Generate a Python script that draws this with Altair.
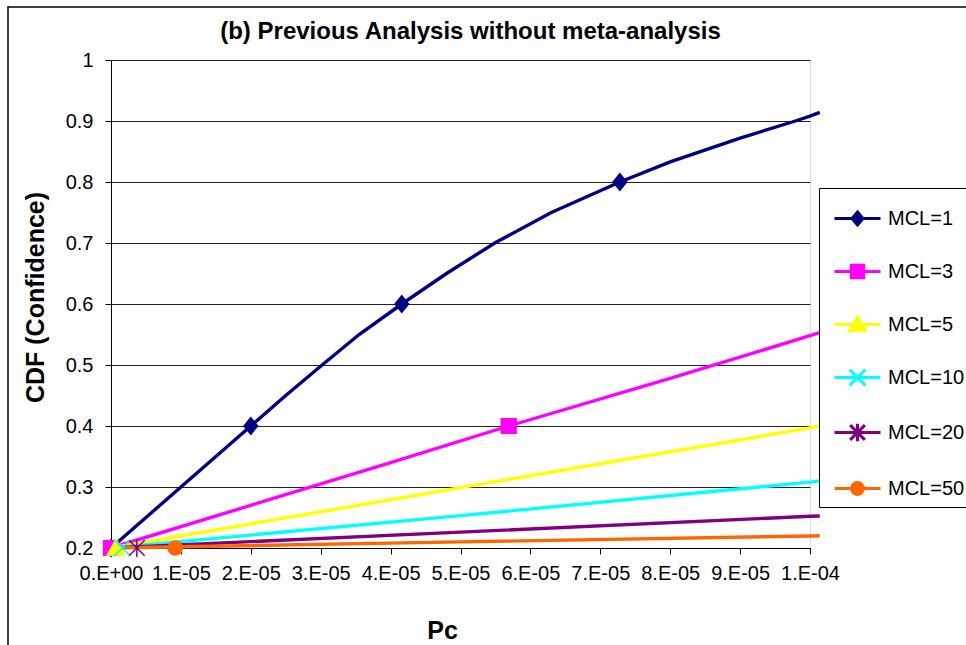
import json
import altair as alt
import pandas as pd

# ---------------- data ----------------
SERIES = ["MCL=1", "MCL=3", "MCL=5", "MCL=10", "MCL=20", "MCL=50"]
COLORS = ["#000080", "#FF00FF", "#FFFF00", "#00FFFF", "#800080", "#FF6600"]

MCL1_X = [0, 1.0e-5, 2.0e-5, 2.5e-5, 3.02e-5, 3.55e-5, 4.16e-5, 4.8e-5, 5.49e-5,
          6.3e-5, 7.28e-5, 8.0e-5, 9.0e-5, 9.79e-5, 1.0e-4, 1.014e-4]
MCL1_Y = [0.2, 0.3, 0.4, 0.45, 0.5, 0.55, 0.6, 0.65, 0.7,
          0.75, 0.8, 0.833, 0.872, 0.9, 0.908, 0.914]
MCL3_X = [0, 2.0e-5, 4.0e-5, 5.69e-5, 8.0e-5, 1.0e-4, 1.014e-4]
MCL3_Y = [0.2, 0.27, 0.34, 0.4, 0.478, 0.548, 0.553]
MCL5_X = [0, 5.0e-5, 1.0e-4, 1.014e-4]
MCL5_Y = [0.2, 0.299, 0.397, 0.4]
MCL10_X = [0, 5.0e-5, 1.0e-4, 1.014e-4]
MCL10_Y = [0.2, 0.253, 0.308, 0.31]
MCL20_X = [0, 5.0e-5, 1.0e-4, 1.014e-4]
MCL20_Y = [0.2, 0.226, 0.252, 0.2525]
MCL50_X = [0, 5.0e-5, 1.0e-4, 1.014e-4]
MCL50_Y = [0.2, 0.21, 0.2197, 0.22]

# marker positions
MK1_X = [0, 2.0e-5, 4.16e-5, 7.28e-5]
MK1_Y = [0.2, 0.4, 0.6, 0.8]
MK3_X = [0, 5.69e-5]
MK3_Y = [0.2, 0.4]
MK5_X = [0.07e-5]
MK5_Y = [0.2]
MK10_X = [0.16e-5]
MK10_Y = [0.2]
MK20_X = [0.37e-5]
MK20_Y = [0.2]
MK50_X = [0.92e-5]
MK50_Y = [0.2]

X_TICKS = [0.0, 1e-05, 2e-05, 3e-05, 4e-05, 5e-05, 6e-05, 7e-05, 8e-05, 9e-05, 1e-04]
X_TICK_LABELS = ["0.E+00", "1.E-05", "2.E-05", "3.E-05", "4.E-05", "5.E-05",
                 "6.E-05", "7.E-05", "8.E-05", "9.E-05", "1.E-04"]
Y_TICKS = [0.2, 0.3, 0.4, 0.5, 0.6, 0.7, 0.8, 0.9, 1.0]

TITLE = "(b) Previous Analysis without meta-analysis"
X_TITLE = "Pc"
Y_TITLE = "CDF (Confidence)"

# ---------------- tables ----------------
line_sets = [(MCL1_X, MCL1_Y), (MCL3_X, MCL3_Y), (MCL5_X, MCL5_Y),
             (MCL10_X, MCL10_Y), (MCL20_X, MCL20_Y), (MCL50_X, MCL50_Y)]
mark_sets = [(MK1_X, MK1_Y), (MK3_X, MK3_Y), (MK5_X, MK5_Y),
             (MK10_X, MK10_Y), (MK20_X, MK20_Y), (MK50_X, MK50_Y)]

lines_df = pd.DataFrame([
    {"series": s, "x": x, "y": y}
    for s, (xs, ys) in zip(SERIES, line_sets) for x, y in zip(xs, ys)
])

# marker glyphs (unit square paths)
PLOT_SHAPES = {
    "MCL=1": "M0,-0.95L0.78,0L0,0.95L-0.78,0Z",
    "MCL=3": "M-0.85,-0.85L0.85,-0.85L0.85,0.85L-0.85,0.85Z",
    "MCL=5": "M0,-0.95L1,0.8L-1,0.8Z",
    "MCL=10": "M-0.95,-0.95L0.95,0.95M-0.95,0.95L0.95,-0.95",
    "MCL=20": "M-0.9,-0.9L0.9,0.9M-0.9,0.9L0.9,-0.9M0,-1.05L0,1.05",
    "MCL=50": "M-0.82,0A0.82,0.82,0,1,1,0.82,0A0.82,0.82,0,1,1,-0.82,0Z",
}
LEGEND_SHAPES = [
    "M-1,0L1,0M0,-0.28L0.24,0L0,0.28L-0.24,0Z",
    "M-1,0L1,0M-0.27,-0.27L0.27,-0.27L0.27,0.27L-0.27,0.27Z",
    "M-1,0L1,0M0,-0.32L0.34,0.27L-0.34,0.27Z",
    "M-1,0L1,0M-0.34,-0.34L0.34,0.34M-0.34,0.34L0.34,-0.34",
    "M-1,0L1,0M-0.32,-0.32L0.32,0.32M-0.32,0.32L0.32,-0.32M0,-0.38L0,0.38",
    "M-1,0L1,0M-0.26,0A0.26,0.26,0,1,1,0.26,0A0.26,0.26,0,1,1,-0.26,0Z",
]

marks_df = pd.DataFrame([
    {"series": s, "x": x, "y": y, "marker": PLOT_SHAPES[s]}
    for s, (xs, ys) in zip(SERIES, mark_sets) for x, y in zip(xs, ys)
])

FONT = "Liberation Sans"

x_label_expr = f"{json.dumps(X_TICK_LABELS)}[indexof({json.dumps(X_TICKS)}, datum.value)]"

x_enc = alt.X(
    "x:Q",
    scale=alt.Scale(domain=[0, 1e-4], nice=False, zero=False),
    axis=alt.Axis(
        values=X_TICKS, labelExpr=x_label_expr, grid=False,
        domainColor="black", tickColor="black", tickSize=6,
        labelFont=FONT, labelFontSize=20, labelColor="black", labelPadding=9,
        labelFlush=False, labelOverlap=False,
        title=X_TITLE, titleFont=FONT, titleFontSize=25, titleFontWeight="bold",
        titleColor="black", titleX=331, titleY=90, titleAlign="center",
        titleBaseline="alphabetic",
    ),
)
y_enc = alt.Y(
    "y:Q",
    scale=alt.Scale(domain=[0.2, 1.0], nice=False, zero=False),
    axis=alt.Axis(
        values=Y_TICKS, format="~g", grid=True, gridColor="#222222", gridWidth=1,
        domainColor="black", tickColor="black", tickSize=6,
        labelFont=FONT, labelFontSize=20, labelColor="black", labelPadding=12,
        labelFlush=False, labelOverlap=False,
        title=Y_TITLE, titleFont=FONT, titleFontSize=25, titleFontWeight="bold",
        titleColor="black", titleX=-68, titleY=237, titleAngle=-90,
        titleAlign="center", titleBaseline="alphabetic",
    ),
)

stroke_scale = alt.Scale(domain=SERIES, range=COLORS)
fill_scale = alt.Scale(domain=SERIES, range=COLORS)

frame = alt.Chart(pd.DataFrame({"k": [0]})).mark_rect(
    fill="white", fillOpacity=0, stroke="black", strokeWidth=1.5, clip=False
).encode(
    x=alt.value(-103), x2=alt.value(1100), y=alt.value(-53), y2=alt.value(800)
)

lines = alt.Chart(lines_df).mark_line(strokeWidth=3.4, clip=False).encode(
    x=x_enc, y=y_enc,
    stroke=alt.Stroke("series:N", scale=stroke_scale, legend=None),
    order="x:Q",
)

points = alt.Chart(marks_df).mark_point(
    filled=True, size=300, strokeWidth=1.5, opacity=1, clip=False
).encode(
    x="x:Q", y="y:Q",
    fill=alt.Fill("series:N", scale=fill_scale, legend=None),
    stroke=alt.Stroke("series:N", scale=stroke_scale, legend=None),
    shape=alt.Shape("marker:N", scale=None, legend=None),
)

leg = alt.Legend(
    title=None, orient="none", legendX=708, legendY=128, padding=6,
    symbolOffset=8, symbolSize=2116, symbolStrokeWidth=3,
    labelFont=FONT, labelFontSize=20, labelColor="black", labelOffset=6,
    rowPadding=16, strokeColor="black", fillColor="white", zindex=1,
    labelLimit=300,
)

legend_layer = alt.Chart(marks_df).mark_point(
    filled=True, size=2116, strokeWidth=3, opacity=1
).encode(
    x="x:Q", y="y:Q",
    fill=alt.Fill("series:N", scale=fill_scale, legend=leg),
    stroke=alt.Stroke("series:N", scale=stroke_scale, legend=leg),
    shape=alt.Shape("series:N", scale=alt.Scale(domain=SERIES, range=LEGEND_SHAPES), legend=leg),
).transform_filter("false")

chart = alt.layer(frame, lines, points, legend_layer).resolve_legend(
    fill="independent", stroke="independent", shape="independent"
).properties(
    width=699, height=488,
    autosize=alt.AutoSizeParams(type="none"),
    padding={"left": 111, "top": 60, "right": 156, "bottom": 97},
    title=alt.Title(TITLE, font=FONT, fontSize=24, fontWeight="bold", color="black",
                    anchor="middle", frame="group", dx=10, offset=0, dy=56.5,
                    baseline="alphabetic"),
).configure_view(stroke="#808080", strokeWidth=1).configure(background="white")

chart.save("out.html", embed_options={"renderer": "svg", "actions": False})
